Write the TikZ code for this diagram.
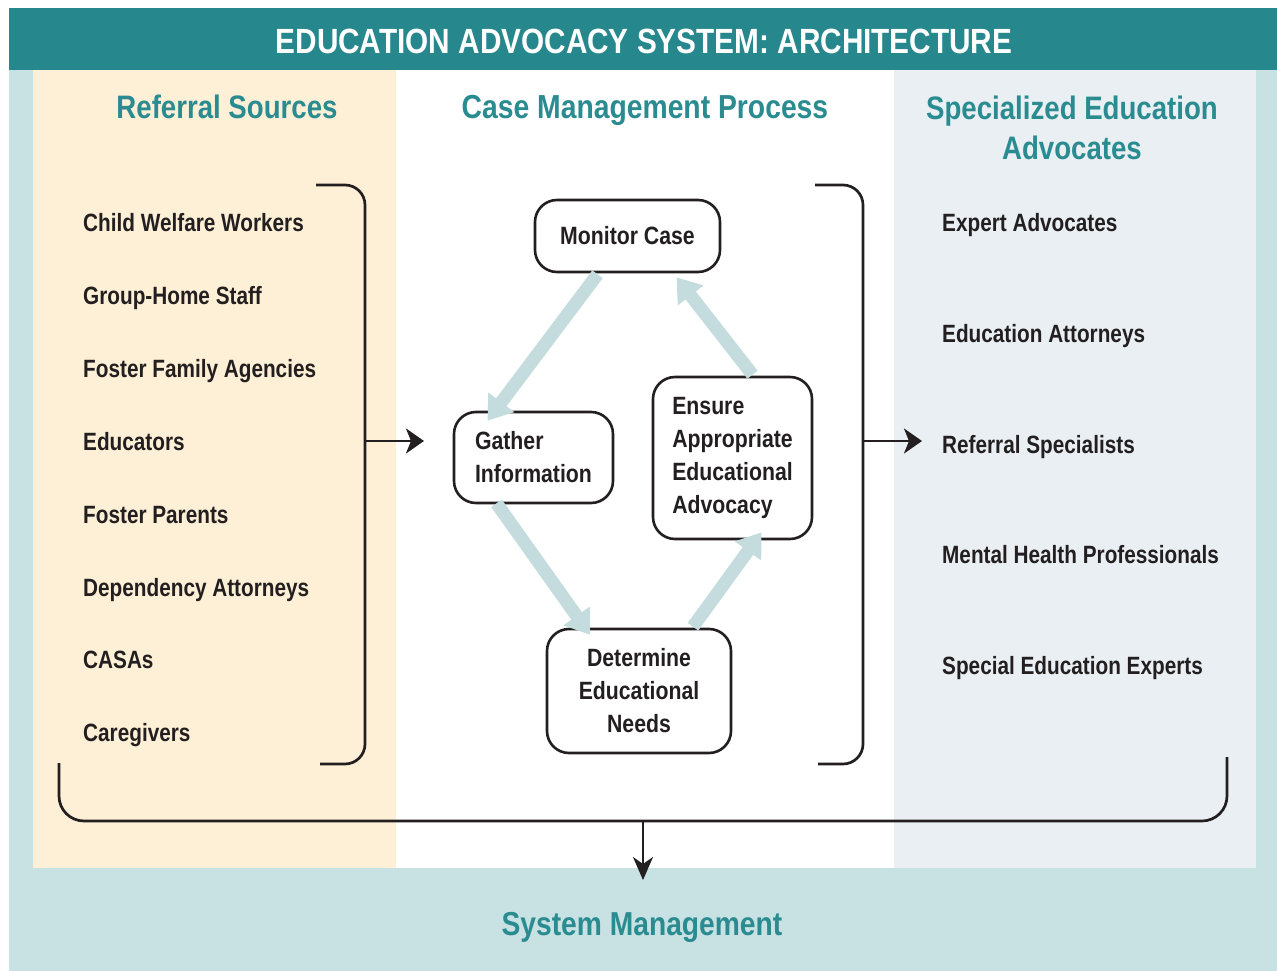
\documentclass[tikz,border=0pt]{standalone}
\usepackage{fontspec}
\setmainfont{Liberation Sans}[FakeStretch=0.85]
\newfontfamily\listfont{Liberation Sans}[FakeStretch=0.83]
\usetikzlibrary{arrows.meta,calc}
\definecolor{titleteal}{HTML}{26878D}
\definecolor{outerblue}{HTML}{C8E1E3}
\definecolor{yellowbg}{HTML}{FEF0D6}
\definecolor{rightbg}{HTML}{E9EFF2}
\definecolor{headteal}{HTML}{2A8B90}
\definecolor{darktext}{HTML}{231F20}
\definecolor{arrowblue}{HTML}{C5DCDE}
\tikzset{
  listitem/.style={anchor=base west, font=\listfont\fontsize{25}{30}\selectfont\bfseries, text=darktext, inner sep=0pt},
  heading/.style={anchor=base, font=\fontsize{32.5}{40}\selectfont\bfseries, text=headteal, inner sep=0pt},
  proc/.style={draw=darktext, line width=2.6pt, rounded corners=22pt, fill=white,
    font=\fontsize{25}{33}\selectfont\bfseries, text=darktext, inner sep=0pt},
  fat/.style={draw=arrowblue, line width=13pt, -{Triangle[length=23pt,width=31pt]}},
  blk/.style={draw=darktext, line width=2.7pt, -{Stealth[length=18pt,width=25pt,inset=5pt]}},
  blkdown/.style={draw=darktext, line width=2.7pt, -{Stealth[length=23pt,width=20pt,inset=7pt]}},
  brk/.style={draw=darktext, line width=2.7pt, rounded corners=20pt}
}
\begin{document}
\begin{tikzpicture}[x=1pt,y=-1pt]
\useasboundingbox (0,0) rectangle (1277,971);
% backgrounds
\fill[outerblue] (9,8) rectangle (1277,971);
\fill[titleteal] (9,8) rectangle (1277,70);
\fill[yellowbg] (33,70) rectangle (396,868);
\fill[white] (396,70) rectangle (894,868);
\fill[rightbg] (894,70) rectangle (1256,868);
% title
\node[anchor=base, font=\fontsize{35}{40}\selectfont\bfseries, text=white, inner sep=0pt] (title) at (644,54) {EDUCATION ADVOCACY SYSTEM: ARCHITECTURE};
% headings
\node[heading] (h1) at (227,119) {Referral Sources};
\node[heading, font=\fontsize{33.3}{40}\selectfont\bfseries] (h2) at (645,119) {Case Management Process};
\node[heading, align=center, anchor=north] (h3) at (1072,96) {Specialized Education\\Advocates};
\node[heading, font=\fontsize{33.2}{40}\selectfont\bfseries] (h4) at (642,935) {System Management};
% left list
\node[listitem] (l1) at (83,231) {Child Welfare Workers};
\node[listitem] (l2) at (83,304) {Group-Home Staff};
\node[listitem] (l3) at (83,377) {Foster Family Agencies};
\node[listitem] (l4) at (83,450) {Educators};
\node[listitem] (l5) at (83,523) {Foster Parents};
\node[listitem] (l6) at (83,596) {Dependency Attorneys};
\node[listitem] (l7) at (83,668) {CASAs};
\node[listitem] (l8) at (83,741) {Caregivers};
% right list
\node[listitem] (r1) at (942,231) {Expert Advocates};
\node[listitem] (r2) at (942,342) {Education Attorneys};
\node[listitem] (r3) at (942,453) {Referral Specialists};
\node[listitem] (r4) at (942,563) {Mental Health Professionals};
\node[listitem] (r5) at (942,674) {Special Education Experts};
% process nodes
\node[proc, minimum width=185pt, minimum height=72pt] (mon) at (627.5,236) {Monitor Case};
\node[proc, minimum width=159pt, minimum height=91pt, align=left] (gat) at (533.5,457.5) {Gather\\Information};
\node[proc, minimum width=159pt, minimum height=162pt, align=left] (ens) at (732.5,458) {Ensure\\Appropriate\\Educational\\Advocacy};
\node[proc, minimum width=184pt, minimum height=124pt, align=center] (det) at (639,691) {Determine\\Educational\\Needs};
% cycle arrows
\draw[fat] ($(mon.south)+(-30,1)$) -- ($(gat.north)+(-46,10)$);
\draw[fat] ($(gat.south)+(-37,-1)$) -- ($(det.north)+(-49,7)$);
\draw[fat] ($(det.north)+(54,-1)$) -- ($(ens.south)+(29,-8)$);
\draw[fat] ($(ens.north)+(20,-1)$) -- ($(mon.south)+(49,4)$);
% brackets
\draw[brk] (316,185) -| (365,764) -- (320,764);
\draw[brk] (815,185) -| (863,764) -- (818,764);
\draw[brk, rounded corners=25pt] (59,763) |- (1227,821) -- (1227,757);
% bracket arrows
\coordinate (lb) at (365,441);
\coordinate (lt) at (424,441);
\coordinate (rb) at (863,441);
\coordinate (rt) at (922,441);
\coordinate (bb) at (643,821);
\coordinate (bt) at (643,880);
\draw[blk] (lb) -- (lt);
\draw[blk] (rb) -- (rt);
\draw[blkdown] (bb) -- (bt);
\end{tikzpicture}
\end{document}
